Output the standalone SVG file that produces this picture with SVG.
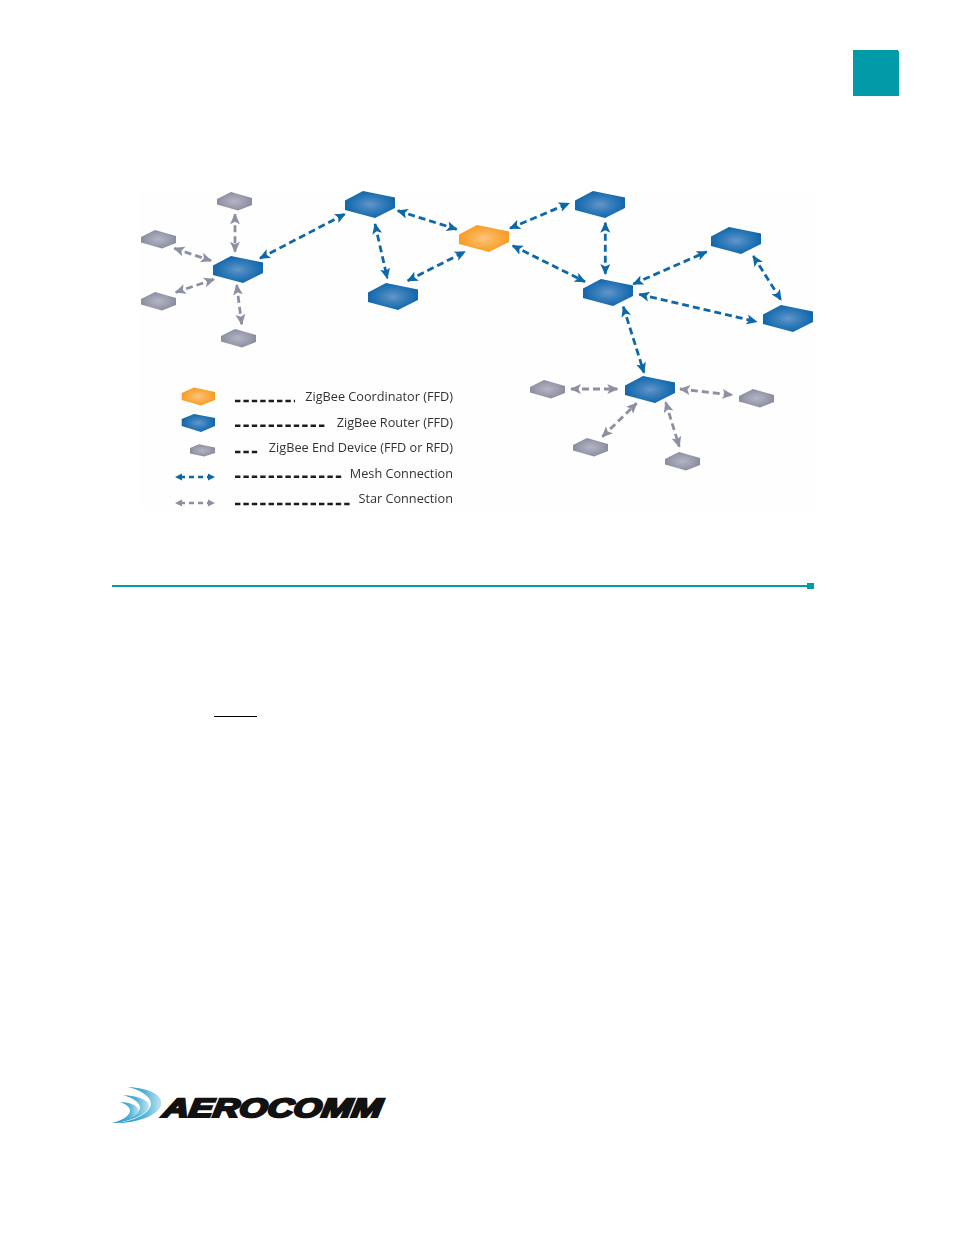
<svg xmlns="http://www.w3.org/2000/svg" width="954" height="1235" viewBox="0 0 954 1235">
<style>
.mesh{fill:none;stroke:#0f67a8;stroke-width:2.8;stroke-dasharray:7 4;marker-start:url(#ma);marker-end:url(#ma)}
.star{fill:none;stroke:#8d90a3;stroke-width:2.8;stroke-dasharray:7 4;marker-start:url(#sa);marker-end:url(#sa)}
.lead{fill:none;stroke:#1a1a1a;stroke-width:2.4;stroke-dasharray:5.4 3}
.lbl{font-family:"Open Sans","Noto Sans",sans-serif;font-size:12.7px;fill:#333;text-anchor:end}
</style>
<defs>
<marker id="ma" viewBox="0 0 11 11" refX="10" refY="5.500" markerWidth="11" markerHeight="11" markerUnits="userSpaceOnUse" orient="auto-start-reverse"><path d="M0 0.5L11 5.500L0 10.500L2.5 5.500Z" fill="#0f67a8"/></marker>
<marker id="sa" viewBox="0 0 11 11" refX="10" refY="5.500" markerWidth="11" markerHeight="11" markerUnits="userSpaceOnUse" orient="auto-start-reverse"><path d="M0 0.5L11 5.500L0 10.500L2.5 5.500Z" fill="#8d90a3"/></marker>
<radialGradient id="gb" cx="0.5" cy="0.5" r="0.55"><stop offset="0" stop-color="#6496ca"/><stop offset="0.45" stop-color="#357dba"/><stop offset="1" stop-color="#0c63a9"/></radialGradient>
<radialGradient id="go" cx="0.5" cy="0.5" r="0.55"><stop offset="0" stop-color="#fdc47d"/><stop offset="0.6" stop-color="#f9a93f"/><stop offset="1" stop-color="#f79a1e"/></radialGradient>
<radialGradient id="gg" cx="0.5" cy="0.5" r="0.55"><stop offset="0" stop-color="#b3b5c3"/><stop offset="0.6" stop-color="#9a9cad"/><stop offset="1" stop-color="#858899"/></radialGradient>
<linearGradient id="sw" x1="0" y1="0" x2="1" y2="0"><stop offset="0" stop-color="#0d88bd"/><stop offset="0.65" stop-color="#4fb3d8"/><stop offset="1" stop-color="#c3e3f0"/></linearGradient>
<path id="big" d="M0 9.500L18 0L50 6.500V17L30 27L0 19Z"/>
<path id="small" d="M0 7L14 0L35 6V13L21 18.500L0 12.500Z"/>
<filter id="soft" x="-5%" y="-5%" width="110%" height="110%"><feGaussianBlur stdDeviation="0.6"/></filter>
</defs>
<rect width="954" height="1235" fill="#ffffff"/>
<path id="tab" d="M853 50H898V51H899V96H853Z" fill="#009aa8"/>
<g filter="url(#soft)">
<rect id="panel" x="140" y="190" width="675" height="320" fill="#fefefe"/>
<g id="connectors">
<path class="mesh" d="M260 258.3L345 214"/>
<path class="mesh" d="M397.7 210.7L456.7 229.3"/>
<path class="mesh" d="M375 224L387.3 278.3"/>
<path class="mesh" d="M407.7 280.7L465 251.7"/>
<path class="mesh" d="M510 228.3L569 203.3"/>
<path class="mesh" d="M605.3 222.7V274"/>
<path class="mesh" d="M512.7 245.7L585 281.7"/>
<path class="mesh" d="M633.3 284L706.7 251.7"/>
<path class="mesh" d="M639.3 294.3L756.7 321.7"/>
<path class="mesh" d="M753.3 256L781 300"/>
<path class="mesh" d="M623.3 306.7L644 372.7"/>
<path class="star" d="M235 214.3V251.7"/>
<path class="star" d="M174.3 248.3L211 260.7"/>
<path class="star" d="M175.7 292.3L214 279.3"/>
<path class="star" d="M236.7 285L241.7 324.3"/>
<path class="star" d="M571 389H617.3"/>
<path class="star" d="M680 389L732.3 395"/>
<path class="star" d="M602.3 436.7L636.7 403.3"/>
<path class="star" d="M665.7 402.3L679.3 446.7"/>
</g>
<g id="coordinator"><use href="#big" x="459" y="225" fill="url(#go)"/></g>
<g id="router-1"><use href="#big" x="345" y="191" fill="url(#gb)"/></g>
<g id="router-2"><use href="#big" x="213" y="256" fill="url(#gb)"/></g>
<g id="router-3"><use href="#big" x="368" y="283" fill="url(#gb)"/></g>
<g id="router-4"><use href="#big" x="575" y="191" fill="url(#gb)"/></g>
<g id="router-5"><use href="#big" x="583" y="279" fill="url(#gb)"/></g>
<g id="router-6"><use href="#big" x="711" y="227" fill="url(#gb)"/></g>
<g id="router-7"><use href="#big" x="763" y="305" fill="url(#gb)"/></g>
<g id="router-8"><use href="#big" x="625" y="376" fill="url(#gb)"/></g>
<g id="end-1"><use href="#small" x="217" y="192" fill="url(#gg)"/></g>
<g id="end-2"><use href="#small" x="141" y="230" fill="url(#gg)"/></g>
<g id="end-3"><use href="#small" x="141" y="292" fill="url(#gg)"/></g>
<g id="end-4"><use href="#small" x="221" y="329" fill="url(#gg)"/></g>
<g id="end-5"><use href="#small" x="530" y="380" fill="url(#gg)"/></g>
<g id="end-6"><use href="#small" x="739" y="389" fill="url(#gg)"/></g>
<g id="end-7"><use href="#small" x="573" y="438" fill="url(#gg)"/></g>
<g id="end-8"><use href="#small" x="665" y="452" fill="url(#gg)"/></g>
<g id="legend">
<path d="M181.7 393L194 387.500L215 392V400L201 405.500L181.700 400Z" fill="url(#go)"/>
<path d="M181.7 419L194 414L215 418V426L201 432L181.700 426Z" fill="url(#gb)"/>
<path d="M190 448L199 444.300L215 447.500V453L204 456.500L190 453.500Z" fill="url(#gg)"/>
<path d="M180 477H210" fill="none" stroke="#0f67a8" stroke-width="2.4" stroke-dasharray="5 4"/>
<path d="M175 477L182 473.500V480.500ZM215 477L208 473.500V480.500Z" fill="#0f67a8"/>
<path d="M180 503H210" fill="none" stroke="#8d90a3" stroke-width="2.4" stroke-dasharray="5 4"/>
<path d="M175 503L182 499.500V506.500ZM215 503L208 499.500V506.500Z" fill="#8d90a3"/>
<path class="lead" d="M235 401H295"/>
<path class="lead" d="M235 425.700H325"/>
<path class="lead" d="M235 452H260"/>
<path class="lead" d="M235 476.700H343"/>
<path class="lead" d="M235 504H350"/>
<text class="lbl" x="453" y="401">ZigBee Coordinator (FFD)</text>
<text class="lbl" x="453" y="426.500">ZigBee Router (FFD)</text>
<text class="lbl" x="453" y="452">ZigBee End Device (FFD or RFD)</text>
<text class="lbl" x="453" y="477.500">Mesh Connection</text>
<text class="lbl" x="453" y="503">Star Connection</text>
</g>
</g>
<g id="rule"><rect x="112" y="585" width="696" height="2" fill="#009aa8"/><rect x="807" y="583" width="7" height="6" fill="#009aa8"/></g>
<rect id="underline" x="214" y="716" width="43" height="1" fill="#000000"/>
<g id="logo">
<path d="M128 1087C150 1088 164 1096 161 1105C158 1116 135 1124 112 1123C135 1122 150 1113 151 1104C151 1096 140 1090 128 1087Z" fill="url(#sw)"/>
<path d="M123 1095C138 1096 150 1100 149 1107C148 1114 130 1122 112 1123C128 1121 141 1113 140 1107C139 1101 130 1097 123 1095Z" fill="url(#sw)"/>
<path d="M120 1102C130 1102 139 1106 139 1111C138 1116 125 1122 112 1123C122 1121 131 1115 130 1110C129 1106 125 1104 120 1102Z" fill="url(#sw)"/>
<text transform="translate(162 1117) skewX(-8)" x="0" y="0" font-family="'Liberation Sans',sans-serif" font-weight="700" font-style="italic" font-size="26.500" fill="#111" stroke="#111" stroke-width="2.2" textLength="219" lengthAdjust="spacingAndGlyphs">AEROCOMM</text>
</g>
</svg>
